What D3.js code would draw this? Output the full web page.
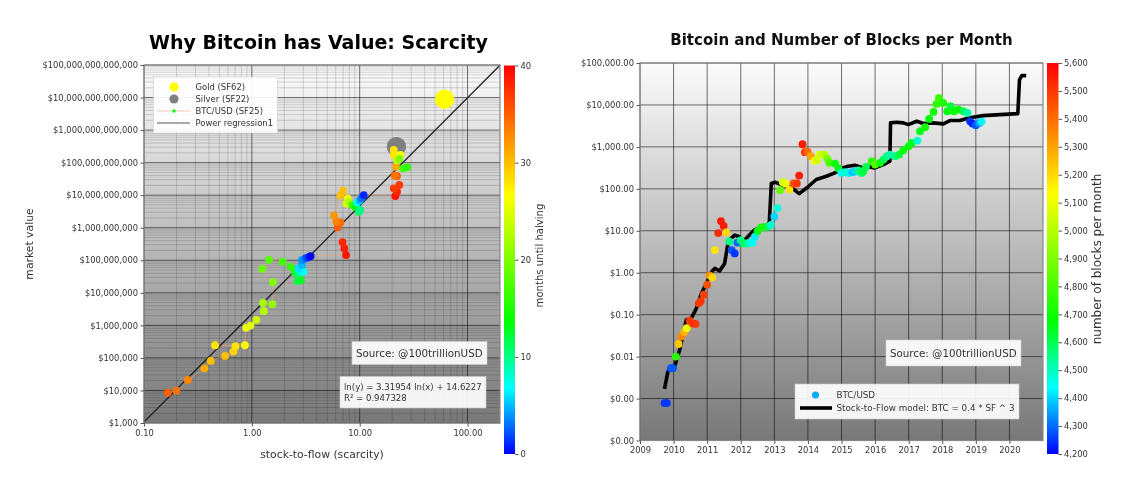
<!DOCTYPE html>
<html>
<head>
<meta charset="utf-8">
<script src="https://cdn.jsdelivr.net/npm/d3@7"></script>
<style>
  html, body { margin: 0; padding: 0; background: #fff; }
  svg { display: block; filter: blur(0.55px); font-family: "DejaVu Sans", sans-serif; }
  .tick text { fill: #333; font-size: 8.35px; font-family: "DejaVu Sans", sans-serif; }
  .tick line { stroke: #555; }
  .domain { display: none; }
</style>
</head>
<body>
<div id="chart"></div>
<script>
// ---- left chart data: stock-to-flow vs market value
const sf = [0.166,0.2,0.255,0.363,0.416,0.565,0.676,0.705,0.456,0.861,0.885,0.973,1.1,1.29,1.27,1.55,1.57,1.25,1.44,1.93,2.29,2.52,2.85,2.65,2.62,2.81,3.02,2.71,2.91,2.91,3.13,3.24,3.41,3.51,
  7.47,7.2,6.93,6.25,6.62,6.08,5.78,6.62,7.01,7.74,7.53,7.9,8.5,9.1,9.8,10.1,9.45,10,10.4,10.9,
  21.4,22.2,20.7,23.3,22.2,21.1,21.7,20.7,20.7,23.8,22.2,23.3,25.2,27.6];
const marketValue = [8570,9900,21000,48000,81000,115000,157000,229000,245000,245000,838000,988000,1.48e6,2.73e6,4.9e6,4.5e6,21.3e6,54.7e6,103e6,90e6,63e6,41e6,24.5e6,23e6,39e6,44e6,44e6,56e6,71e6,101e6,114e6,119e6,128e6,135e6,
  144e6,231e6,362e6,1.02e9,1.46e9,1.53e9,2.4e9,9.7e9,13.7e9,8e9,5.6e9,6.3e9,5e9,4.4e9,3.1e9,3.5e9,5.9e9,6.8e9,8e9,10.1e9,
  9.4e9,12.8e9,16.2e9,20.6e9,38.9e9,39.8e9,75e9,245e9,172e9,172e9,120e9,130e9,67e9,72e9];
const monthsLeft = [35,34,33,31,30,30,29,28,28,27,26,25,24,23,22,21,20,19,18,17,16,15,13,12,11,9,7,6,5,4,3,2,1,0,
  39,38.5,38,35,34.5,33,32,30,30,26,25,23,17,14,11,10,7,5,3,1,
  39,38,37,37,35,34,31,28,28,26,24,20,17,16];
const regressionSF = [0.1,200];
const regressionValue = [1075,9.8e13];
const goldSF = [61.2], goldValue = [8.9e12];
const silverSF = [21.9], silverValue = [3.1e11];
const leftYTicks = [1e3,1e4,1e5,1e6,1e7,1e8,1e9,1e10,1e11,1e12,1e13,1e14];
const leftXTicks = [0.1,1,10,100];
const monthTicks = [0,10,20,30,40];

// ---- right chart data: price history and model
const btcYear = [2009.73,2009.8,2009.92,2009.98,2010.07,2010.15,2010.23,2010.32,2010.39,2010.48,2010.56,2010.65,2010.75,2010.81,2010.9,2011,2011.07,2011.15,2011.23,2011.33,2011.41,2011.49,2011.57,2011.66,2011.73,2011.82,2011.9,
  2012,2012.08,2012.18,2012.27,2012.35,2012.42,2012.5,2012.6,2012.7,2012.8,2012.9,2013,2013.09,2013.17,2013.25,2013.33,2013.45,2013.57,2013.67,2013.74,2013.84,2013.91,2013.99,
  2014.09,2014.19,2014.27,2014.35,2014.49,2014.58,2014.64,2014.81,2014.91,2015,2015.1,2015.22,2015.32,2015.4,2015.5,2015.6,2015.65,2015.73,2015.9,
  2016,2016.15,2016.25,2016.35,2016.45,2016.6,2016.72,2016.84,2017,2017.09,2017.26,2017.34,2017.49,2017.61,2017.74,2017.83,2017.9,
  2018.03,2018.15,2018.25,2018.35,2018.48,2018.63,2018.75,2018.83,2018.9,2019,2019.1,2019.17];
const btcPrice = [0.00078,0.00078,0.0053,0.0053,0.01,0.02,0.03,0.0386,0.048,0.072,0.062,0.06,0.186,0.21,0.3,0.52,0.865,0.77,3.46,8.8,17,13,9.1,5.57,3.47,2.89,5.2,
  6,5,5,5.2,5.2,7.2,9.8,11.8,12.4,12.4,13.9,22,34.7,93,144,134,96,134,134,207,1157,747,774,
  600,464,482,656,656,518,416,401,305,240,250,240,250,259,274,240,263,334,456,
  379,416,499,600,656,600,656,833,1038,1245,1416,2361,2938,4640,6810,10570,14670,
  11160,7070,9300,7070,7740,7070,6450,4080,3600,3280,3720,4010];
const blocksPerMonth = [4250,4250,4280,4280,4750,5230,5350,5270,5100,5500,5500,5500,5500,5500,5480,5450,5350,5200,5180,5520,5550,5550,5200,4550,4280,4250,4300,
  4550,4600,4550,4480,4450,4420,4650,4720,4720,4600,4480,4400,4470,4850,5050,5100,5180,5450,5500,5550,5550,5500,5400,
  5300,5150,5050,5050,5000,4880,4800,4700,4650,4450,4480,4470,4380,4400,4550,4580,4620,4600,4750,
  4820,4700,4600,4550,4520,4550,4620,4680,4680,4650,4480,4650,4700,4680,4700,4750,4780,
  4720,4680,4620,4700,4680,4600,4520,4250,4230,4280,4350,4430];
const modelYear = [2009.73,2009.83,2010.03,2010.18,2010.38,2010.53,2010.68,2010.83,2010.98,2011.13,2011.23,2011.37,2011.52,2011.63,2011.82,2011.96,2012.08,2012.23,2012.43,2012.78,2012.85,2012.88,2012.91,2013.02,2013.27,2013.52,2013.74,2013.97,2014.25,2014.55,2014.8,2015.03,2015.2,2015.4,2015.65,2015.8,2016,2016.25,2016.44,2016.46,2016.64,2016.84,2016.99,2017.24,2017.44,2017.73,2018.03,2018.23,2018.53,2018.78,2019.22,2019.72,2020.25,2020.3,2020.37,2020.5];
const modelPrice = [0.0017,0.0044,0.0058,0.0144,0.0746,0.082,0.142,0.322,0.557,1.06,1.27,1.1,1.67,5.7,7.9,7.2,5.6,7.46,10.8,12.9,15.5,46,134,144,120,106,77,106,167,200,240,316,347,366,316,334,316,379,456,3730,3860,3730,3400,4080,3600,3730,3530,4240,4240,4900,5570,5890,6220,40100,49900,49900];
const rightYTicks = [1e-4,1e-3,1e-2,1e-1,1,10,100,1e3,1e4,1e5];
const rightXTicks = [2009,2010,2011,2012,2013,2014,2015,2016,2017,2018,2019,2020];
const blockTicks = d3.range(4200,5601,100);

const colourStops = [0,0.17,0.34,0.665,1];
const colourHex = ['#0000ff','#00ffff','#00ff00','#ffff00','#ff0000'];

const svg = d3.select('#chart').append('svg').attr('width',1136).attr('height',494);
const defs = svg.append('defs');

const bgGrad = defs.append('linearGradient').attr('id','bg').attr('x1',0).attr('x2',0).attr('y1',0).attr('y2',1);
bgGrad.append('stop').attr('offset','0%').attr('stop-color','#fbfbfb');
bgGrad.append('stop').attr('offset','100%').attr('stop-color','#787878');

const cbGrad = defs.append('linearGradient').attr('id','cb').attr('x1',0).attr('x2',0).attr('y1',1).attr('y2',0);
colourStops.forEach((s,i) => cbGrad.append('stop').attr('offset',s).attr('stop-color',colourHex[i]));

// draws one colorbar and returns the colour scale for its domain
const colourbar = (x0, x1, y0, y1, domain, ticks, fmt, label, labelX, labelY, labelSize) => {
  const t = d3.scaleLinear().domain(domain).range([0,1]);
  const col = d3.scaleLinear().domain(colourStops).range(colourHex).clamp(true);
  svg.append('rect').attr('x',x0).attr('y',y0).attr('width',x1-x0).attr('height',y1-y0).attr('fill','url(#cb)');
  const s = d3.scaleLinear().domain(domain).range([y1,y0]);
  svg.append('g').attr('transform',`translate(${x1},0)`)
     .call(d3.axisRight(s).tickValues(ticks).tickFormat(fmt).tickSize(3.5).tickPadding(2));
  svg.append('text').attr('transform',`translate(${labelX},${labelY}) rotate(-90)`)
     .attr('text-anchor','middle').attr('font-size',labelSize).attr('fill','#333').text(label);
  return d => col(t(d));
};

// draws the frame background and returns the group for marks
const panel = (x, y, xTicks, yTicks, xMinor, yMinor) => {
  const [l,r] = x.range(), [b,t] = y.range();
  const g = svg.append('g');
  g.append('rect').attr('x',l).attr('y',t).attr('width',r-l).attr('height',b-t).attr('fill','url(#bg)');
  g.selectAll('.vm').data(xMinor).join('line').attr('x1',x).attr('x2',x).attr('y1',t).attr('y2',b)
   .attr('stroke','#000').attr('stroke-opacity',0.17).attr('stroke-width',0.9);
  g.selectAll('.hm').data(yMinor).join('line').attr('y1',y).attr('y2',y).attr('x1',l).attr('x2',r)
   .attr('stroke','#000').attr('stroke-opacity',0.17).attr('stroke-width',0.9);
  g.selectAll('.vg').data(xTicks).join('line').attr('x1',x).attr('x2',x).attr('y1',t).attr('y2',b)
   .attr('stroke','#000').attr('stroke-opacity',0.55).attr('stroke-width',1);
  g.selectAll('.hg').data(yTicks).join('line').attr('y1',y).attr('y2',y).attr('x1',l).attr('x2',r)
   .attr('stroke','#000').attr('stroke-opacity',0.55).attr('stroke-width',1);
  return g;
};

const frame = (x, y) => {
  const [l,r] = x.range(), [b,t] = y.range();
  svg.append('rect').attr('x',l).attr('y',t).attr('width',r-l).attr('height',b-t)
     .attr('fill','none').attr('stroke','#888').attr('stroke-width',1.2);
};

const logSubs = ticks => ticks.slice(0,-1).flatMap(d => d3.range(2,10).map(m => d*m));

//----------------- left chart -----------------------//
const xL = d3.scaleLog().domain([0.1,200]).range([144,500]);
const yL = d3.scaleLog().domain([1e3,1e14]).range([423,65]);
const monthColour = colourbar(504,515,65.5,454,[0,40],monthTicks,d3.format('d'),'months until halving',543,255.5,10.1);

const left = panel(xL,yL,leftXTicks,leftYTicks,
  logSubs(leftXTicks.concat(1000)).filter(d => d < 200),logSubs(leftYTicks));

const idx = d3.range(sf.length);
left.append('path')
    .attr('d',d3.line().x(i => xL(sf[i])).y(i => yL(marketValue[i]))(idx))
    .attr('fill','none').attr('stroke','#f0a070').attr('stroke-opacity',0.6).attr('stroke-width',0.9);
left.append('path')
    .attr('d',d3.line().x((d,i) => xL(d)).y((d,i) => yL(regressionValue[i]))(regressionSF))
    .attr('fill','none').attr('stroke','#222').attr('stroke-width',1.3);
left.append('circle').attr('cx',xL(goldSF[0])).attr('cy',yL(goldValue[0])).attr('r',9.7).attr('fill','#ffff00');
left.append('circle').attr('cx',xL(silverSF[0])).attr('cy',yL(silverValue[0])).attr('r',9.7).attr('fill','#808080');
left.selectAll('.btc').data(idx).join('circle')
    .attr('cx',i => xL(sf[i])).attr('cy',i => yL(marketValue[i])).attr('r',3.9)
    .attr('fill',i => monthColour(monthsLeft[i]));
frame(xL,yL);

svg.append('g').attr('transform','translate(144,0)')
   .call(d3.axisLeft(yL).tickValues(leftYTicks).tickFormat(d3.format('$,.0f')).tickSize(3.5).tickPadding(2.5));
svg.append('g').attr('transform','translate(0,423)')
   .call(d3.axisBottom(xL).tickValues(leftXTicks).tickFormat(d3.format('.2f')).tickSize(3.5).tickPadding(4));

svg.append('text').attr('x',318.5).attr('y',48.5).attr('text-anchor','middle')
   .attr('font-size',19).attr('font-weight','bold').attr('fill','#000').text('Why Bitcoin has Value: Scarcity');
svg.append('text').attr('transform','translate(32.5,244) rotate(-90)').attr('text-anchor','middle')
   .attr('font-size',10.8).attr('fill','#333').text('market value');
svg.append('text').attr('x',322).attr('y',458).attr('text-anchor','middle')
   .attr('font-size',10.8).attr('fill','#333').text('stock-to-flow (scarcity)');

// legend
const box = (x,y,w,h) => svg.append('rect').attr('x',x).attr('y',y).attr('width',w).attr('height',h)
   .attr('fill','#fff').attr('fill-opacity',0.92).attr('stroke','#ccc').attr('stroke-width',0.6);
const label = (x,y,t,size=8.45,col='#333') => svg.append('text').attr('x',x).attr('y',y)
   .attr('font-size',size).attr('fill',col).text(t);

box(153.5,77,124,56);
svg.append('circle').attr('cx',174).attr('cy',87).attr('r',4.6).attr('fill','#ffff00');
svg.append('circle').attr('cx',174).attr('cy',99).attr('r',4.6).attr('fill','#808080');
svg.append('line').attr('x1',157).attr('x2',190).attr('y1',111).attr('y2',111).attr('stroke','#f8c0a8').attr('stroke-width',0.9);
svg.append('circle').attr('cx',174).attr('cy',111).attr('r',1.7).attr('fill','#00ff00');
svg.append('line').attr('x1',157).attr('x2',190).attr('y1',123).attr('y2',123).attr('stroke','#555').attr('stroke-width',1.2);
label(195.5,90,'Gold (SF62)');
label(195.5,102,'Silver (SF22)');
label(195.5,114,'BTC/USD (SF25)');
label(195.5,126,'Power regression1');

box(352,341.5,135,23);
label(356,357,'Source: @100trillionUSD',10.3);
box(340,376.5,146,31.5);
label(344,390,'ln(y) = 3.31954 ln(x) + 14.6227',8.55);
label(344,401,'R² = 0.947328',8.55);

//----------------- right chart -----------------------//
const xR = d3.scaleLinear().domain([2009,2021]).range([640,1043]);
const yR = d3.scaleLog().domain([1e-4,1e5]).range([440.5,63]);
const blockColour = colourbar(1047,1058.5,63,454,[4200,5600],blockTicks,d3.format(','),'number of blocks per month',1101,259,12);

const right = panel(xR,yR,rightXTicks,rightYTicks,[],[]);
right.append('path')
     .attr('d',d3.line().x((d,i) => xR(d)).y((d,i) => yR(modelPrice[i]))(modelYear))
     .attr('fill','none').attr('stroke','#000').attr('stroke-width',3.6).attr('stroke-linejoin','round');
right.selectAll('.btc').data(btcYear).join('circle')
     .attr('cx',d => xR(d)).attr('cy',(d,i) => yR(btcPrice[i])).attr('r',3.9)
     .attr('fill',(d,i) => blockColour(blocksPerMonth[i]));
frame(xR,yR);

svg.append('g').attr('transform','translate(640,0)')
   .call(d3.axisLeft(yR).tickValues(rightYTicks).tickFormat(d3.format('$,.2f')).tickSize(3.5).tickPadding(2.5));
svg.append('g').attr('transform','translate(0,440.5)')
   .call(d3.axisBottom(xR).tickValues(rightXTicks).tickFormat(d3.format('d')).tickSize(3.5).tickPadding(3));

svg.append('text').attr('x',841.5).attr('y',44.5).attr('text-anchor','middle')
   .attr('font-size',15).attr('font-weight','bold').attr('fill','#111').text('Bitcoin and Number of Blocks per Month');

box(886,340,135,26);
label(890,356.5,'Source: @100trillionUSD',10.3);
box(795,384,224,35);
svg.append('circle').attr('cx',815.5).attr('cy',395).attr('r',3.5).attr('fill','#00aaff');
svg.append('line').attr('x1',800).attr('x2',832).attr('y1',408).attr('y2',408).attr('stroke','#000').attr('stroke-width',3.6);
label(836.5,398,'BTC/USD',8.75);
label(836.5,411,'Stock-to-Flow model: BTC = 0.4 * SF ^ 3',8.75);
</script>
</body>
</html>
